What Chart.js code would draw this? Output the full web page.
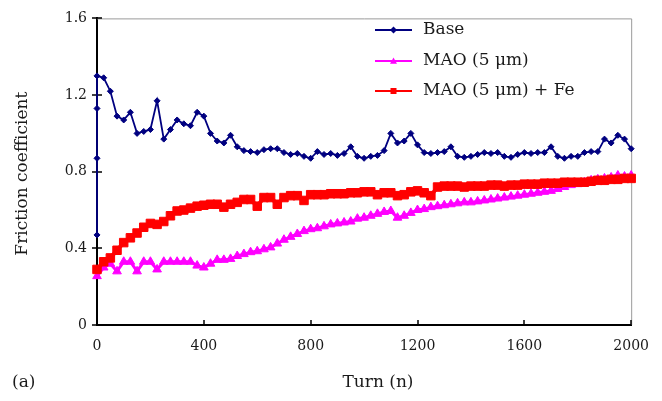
<!DOCTYPE html>
<html>
<head>
<meta charset="utf-8">
<title>Friction coefficient</title>
<script src="https://cdn.jsdelivr.net/npm/chart.js@4.4.0/dist/chart.umd.min.js"></script>
<style>
    body { margin: 0; background: #fff; }
    canvas { display: block; }
</style>
</head>
<body>
<canvas id="frictionChart" width="662" height="401"></canvas>
<script>
// turn count shared by all three runs (every 25 turns)
const turns = [
    0, 25, 50, 75, 100, 125, 150, 175,
    200, 225, 250, 275, 300, 325, 350, 375,
    400, 425, 450, 475, 500, 525, 550, 575,
    600, 625, 650, 675, 700, 725, 750, 775,
    800, 825, 850, 875, 900, 925, 950, 975,
    1000, 1025, 1050, 1075, 1100, 1125, 1150, 1175,
    1200, 1225, 1250, 1275, 1300, 1325, 1350, 1375,
    1400, 1425, 1450, 1475, 1500, 1525, 1550, 1575,
    1600, 1625, 1650, 1675, 1700, 1725, 1750, 1775,
    1800, 1825, 1850, 1875, 1900, 1925, 1950, 1975,
    2000
];

// the base run climbs straight up at the very first turn
const baseStartTurns = [0, 0, 0];
const baseStartFriction = [0.47, 0.87, 1.13];

const baseFriction = [
    1.30, 1.29, 1.22, 1.09, 1.07, 1.11, 1.00, 1.01,
    1.02, 1.17, 0.97, 1.02, 1.07, 1.05, 1.04, 1.11,
    1.09, 1.00, 0.96, 0.95, 0.99, 0.93, 0.91, 0.905,
    0.90, 0.915, 0.92, 0.92, 0.90, 0.89, 0.895, 0.88,
    0.87, 0.905, 0.89, 0.895, 0.885, 0.895, 0.93, 0.88,
    0.87, 0.88, 0.885, 0.91, 1.00, 0.95, 0.96, 1.00,
    0.94, 0.90, 0.895, 0.90, 0.905, 0.93, 0.88, 0.875,
    0.88, 0.89, 0.90, 0.895, 0.90, 0.88, 0.875, 0.89,
    0.90, 0.895, 0.90, 0.90, 0.93, 0.88, 0.87, 0.88,
    0.88, 0.90, 0.905, 0.905, 0.97, 0.95, 0.99, 0.97,
    0.92
];

const maoFriction = [
    0.255, 0.30, 0.32, 0.28, 0.33, 0.33, 0.28, 0.33,
    0.33, 0.29, 0.33, 0.33, 0.33, 0.33, 0.33, 0.31,
    0.30, 0.32, 0.34, 0.34, 0.345, 0.36, 0.37, 0.38,
    0.385, 0.395, 0.405, 0.425, 0.445, 0.46, 0.475, 0.49,
    0.50, 0.505, 0.515, 0.525, 0.53, 0.535, 0.54, 0.555,
    0.56, 0.57, 0.58, 0.59, 0.595, 0.56, 0.57, 0.585,
    0.60, 0.605, 0.615, 0.62, 0.625, 0.63, 0.635, 0.64,
    0.64, 0.645, 0.65, 0.655, 0.66, 0.665, 0.67, 0.675,
    0.68, 0.685, 0.69, 0.695, 0.70, 0.71, 0.72, 0.73,
    0.735, 0.745, 0.755, 0.76, 0.765, 0.77, 0.78, 0.775,
    0.78
];

const maoFeFriction = [
    0.29, 0.33, 0.35, 0.39, 0.43, 0.455, 0.48, 0.51,
    0.53, 0.525, 0.54, 0.57, 0.595, 0.60, 0.61, 0.62,
    0.625, 0.63, 0.63, 0.615, 0.63, 0.64, 0.655, 0.655,
    0.62, 0.665, 0.665, 0.63, 0.665, 0.675, 0.675, 0.65,
    0.68, 0.68, 0.68, 0.685, 0.685, 0.685, 0.69, 0.69,
    0.695, 0.695, 0.68, 0.69, 0.69, 0.675, 0.68, 0.695,
    0.70, 0.69, 0.675, 0.72, 0.725, 0.725, 0.725, 0.72,
    0.725, 0.725, 0.725, 0.73, 0.73, 0.725, 0.73, 0.73,
    0.735, 0.735, 0.735, 0.74, 0.74, 0.74, 0.745, 0.745,
    0.745, 0.745, 0.75, 0.755, 0.755, 0.76, 0.76, 0.765,
    0.765
];

const seriesNames = ['Base', 'MAO (5 \u03bcm)', 'MAO (5 \u03bcm) + Fe'];
const xTitle = 'Turn (n)';
const yTitle = 'Friction coefficient';
const panelLabel = '(a)';

const FONT = "'DejaVu Serif', serif";
const TEXT = '#1a1a1a';

function toPoints(xs, ys) {
    return xs.map((x, i) => ({ x: x, y: ys[i] }));
}

// marker shapes for the legend, drawn by hand
function drawMarker(ctx, style, x, y, r) {
    ctx.beginPath();
    if (style === 'rect') {
        ctx.rect(x - r, y - r, 2 * r, 2 * r);
    } else if (style === 'triangle') {
        ctx.moveTo(x, y - r);
        ctx.lineTo(x + r, y + r * 0.8);
        ctx.lineTo(x - r, y + r * 0.8);
        ctx.closePath();
    } else {
        ctx.moveTo(x, y - r);
        ctx.lineTo(x + r, y);
        ctx.lineTo(x, y + r);
        ctx.lineTo(x - r, y);
        ctx.closePath();
    }
    ctx.fill();
}

const framePlugin = {
    id: 'frame',
    beforeDatasetsDraw(chart) {
        const ctx = chart.ctx;
        const area = chart.chartArea;
        const xs = chart.scales.x;
        const ys = chart.scales.y;
        ctx.save();

        // light top and right edges
        ctx.strokeStyle = '#9a9a9a';
        ctx.lineWidth = 1;
        ctx.beginPath();
        ctx.moveTo(area.left, area.top + 0.5);
        ctx.lineTo(area.right + 0.5, area.top + 0.5);
        ctx.lineTo(area.right + 0.5, area.bottom);
        ctx.stroke();

        // tick marks: inward on x, crossing on y
        ctx.strokeStyle = '#000';
        ctx.lineWidth = 1.5;
        ctx.beginPath();
        xs.ticks.forEach(t => {
            const px = Math.round(xs.getPixelForValue(t.value));
            ctx.moveTo(px, area.bottom);
            ctx.lineTo(px, area.bottom - 5);
        });
        ys.ticks.forEach(t => {
            const py = Math.round(ys.getPixelForValue(t.value));
            ctx.moveTo(area.left - 5, py);
            ctx.lineTo(area.left + 5, py);
        });
        ctx.stroke();
        ctx.restore();
    },
    afterDraw(chart) {
        const ctx = chart.ctx;
        const area = chart.chartArea;
        ctx.save();
        ctx.fillStyle = TEXT;
        ctx.textBaseline = 'middle';

        // axis titles and panel label
        ctx.font = '17px ' + FONT;
        ctx.textAlign = 'center';
        ctx.fillText(xTitle, 378, 383);
        ctx.textAlign = 'left';
        ctx.fillText(panelLabel, 12, 383);

        ctx.save();
        ctx.translate(23, (area.top + area.bottom) / 2 + 2);
        ctx.rotate(-Math.PI / 2);
        ctx.textAlign = 'center';
        ctx.fillText(yTitle, 0, 0);
        ctx.restore();

        // legend: line, marker, name
        const rowY = [30, 61, 91];
        chart.data.datasets.forEach((ds, i) => {
            const y = rowY[i];
            ctx.strokeStyle = ds.borderColor;
            ctx.fillStyle = ds.borderColor;
            ctx.lineWidth = 2;
            ctx.beginPath();
            ctx.moveTo(375, y);
            ctx.lineTo(412, y);
            ctx.stroke();
            drawMarker(ctx, ds.pointStyle, 393.5, y, ds.pointStyle === 'rect' ? 3 : 3.5);
            ctx.fillStyle = TEXT;
            ctx.font = '17px ' + FONT;
            ctx.textAlign = 'left';
            ctx.fillText(ds.label, 423, y);
        });
        ctx.restore();
    }
};

function loadFrictionChart() {
    const ctx = document.getElementById('frictionChart').getContext('2d');

    const basePoints = toPoints(baseStartTurns, baseStartFriction)
        .concat(toPoints(turns, baseFriction));

    new Chart(ctx, {
        type: 'line',
        data: {
            datasets: [{
                label: seriesNames[0],
                data: basePoints,
                borderColor: '#000080',
                backgroundColor: '#000080',
                borderWidth: 1.8,
                pointStyle: 'rectRot',
                pointRadius: 3,
                pointBorderWidth: 1,
                order: 2,
                clip: false
            }, {
                label: seriesNames[1],
                data: toPoints(turns, maoFriction),
                borderColor: '#ff00ff',
                backgroundColor: '#ff00ff',
                borderWidth: 3,
                pointStyle: 'triangle',
                pointRadius: 5,
                pointBorderWidth: 1,
                order: 1,
                clip: false
            }, {
                label: seriesNames[2],
                data: toPoints(turns, maoFeFriction),
                borderColor: '#ff0000',
                backgroundColor: '#ff0000',
                borderWidth: 4,
                pointStyle: 'rect',
                pointRadius: 6,
                pointBorderWidth: 1,
                order: 0,
                clip: false
            }]
        },
        options: {
            responsive: false,
            animation: false,
            layout: { padding: { top: 12, right: 29, left: 0, bottom: 0 } },
            elements: { line: { tension: 0 } },
            plugins: {
                legend: { display: false },
                tooltip: { enabled: false }
            },
            scales: {
                x: {
                    type: 'linear',
                    min: 0,
                    max: 2000,
                    grid: { display: false, drawTicks: false },
                    border: { display: true, color: '#000', width: 2 },
                    ticks: {
                        stepSize: 400,
                        padding: 13,
                        color: TEXT,
                        font: { family: FONT, size: 14 },
                        callback: value => String(value)
                    },
                    afterFit(scale) { scale.height = 76; }
                },
                y: {
                    min: 0,
                    max: 1.6,
                    grid: { display: false, drawTicks: false },
                    border: { display: true, color: '#000', width: 2 },
                    ticks: {
                        stepSize: 0.4,
                        padding: 10,
                        color: TEXT,
                        font: { family: FONT, size: 14 },
                        callback: value => String(Number(value.toFixed(1)))
                    },
                    afterFit(scale) { scale.width = 97; }
                }
            }
        },
        plugins: [framePlugin]
    });
}

window.addEventListener('load', loadFrictionChart);
</script>
</body>
</html>
